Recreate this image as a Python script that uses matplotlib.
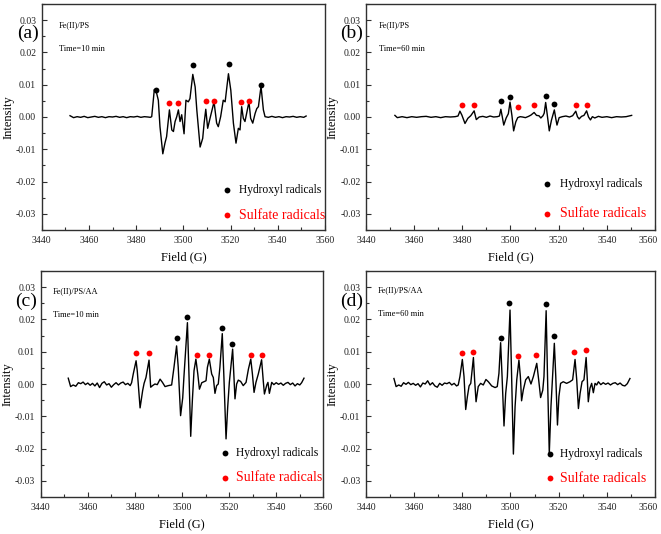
import matplotlib
matplotlib.use("Agg")
import matplotlib.pyplot as plt
from matplotlib.ticker import MultipleLocator, FormatStrFormatter, FuncFormatter

plt.rcParams['font.family'] = ['Liberation Serif', 'DejaVu Serif']
plt.rcParams['axes.unicode_minus'] = False

# ---------------- data ----------------
field_a = [3452.0, 3453.5, 3455.0, 3456.5, 3458.0, 3459.5, 3461.0, 3462.5, 3464.0, 3465.5,
           3467.0, 3468.5, 3470.0, 3471.5, 3473.0, 3474.5, 3476.0, 3477.5, 3479.0, 3480.5,
           3482.0, 3483.5, 3485.0, 3486.0, 3486.6, 3487.7, 3488.7, 3489.4, 3490.1, 3491.3,
           3492.2, 3492.9, 3494.1, 3495.1, 3495.8, 3496.5, 3497.2, 3497.9, 3498.6, 3499.3,
           3500.3, 3501.1, 3502.1, 3502.8, 3504.0, 3505.0, 3505.7, 3507.1, 3508.2, 3508.8,
           3509.5, 3510.3, 3511.3, 3513.0, 3514.1, 3514.8, 3515.8, 3516.9, 3517.7, 3519.1,
           3520.1, 3521.2, 3522.3, 3523.3, 3524.0, 3524.7, 3525.4, 3526.1, 3526.8, 3527.8,
           3528.5, 3529.4, 3530.4, 3531.1, 3531.8, 3532.9, 3533.9, 3534.6, 3536.0, 3537.5,
           3539.0, 3540.5, 3542.0, 3543.5, 3545.0, 3546.5, 3548.0, 3549.5, 3551.0, 3552.0]
intensity_a = [0.0004, -0.0002, 0.0001, -0.0001, 0.0002, -0.0002, 0.0000, 0.0002, -0.0001, 0.0001,
               -0.0002, 0.0001, 0.0000, 0.0002, -0.0001, 0.0001, -0.0002, 0.0001, 0.0000, 0.0002,
               -0.0001, 0.0001, 0.0000, -0.0001, 0.0001, 0.0085, 0.0073, 0.0052, -0.0030, -0.0114,
               -0.0081, -0.0061, 0.0022, -0.0040, -0.0045, -0.0014, 0.0001, 0.0022, -0.0014, 0.0007,
               -0.0052, 0.0052, 0.0047, 0.0057, 0.0132, 0.0093, 0.0022, -0.0093, -0.0066, -0.0019,
               0.0024, -0.0035, -0.0004, 0.0047, -0.0019, -0.0030, 0.0001, 0.0052, 0.0047, 0.0134,
               0.0083, -0.0019, -0.0081, -0.0035, -0.0040, 0.0032, -0.0004, -0.0014, 0.0011, 0.0047,
               -0.0004, -0.0019, 0.0011, 0.0026, 0.0032, 0.0095, 0.0022, 0.0001, -0.0001, 0.0002,
               -0.0001, 0.0001, -0.0002, 0.0001, 0.0000, 0.0002, -0.0001, 0.0001, -0.0001, 0.0003]

field_b = [3452.0, 3453.0, 3455.0, 3457.0, 3459.0, 3461.0, 3463.0, 3465.0, 3467.0, 3469.0,
           3471.0, 3473.0, 3475.0, 3477.0, 3478.2, 3479.0, 3479.8, 3481.1, 3482.3, 3483.5,
           3484.9, 3485.8, 3487.0, 3488.5, 3490.0, 3491.5, 3493.0, 3494.5, 3495.4, 3496.0,
           3496.6, 3497.2, 3498.2, 3499.1, 3499.8, 3500.6, 3501.3, 3502.2, 3503.0, 3504.0,
           3505.0, 3506.2, 3507.5, 3508.5, 3509.8, 3510.8, 3511.8, 3512.6, 3513.5, 3514.0,
           3514.6, 3515.3, 3516.1, 3517.0, 3517.6, 3518.2, 3518.8, 3519.3, 3520.2, 3521.5,
           3523.0, 3524.5, 3525.8, 3527.1, 3527.8, 3528.5, 3529.5, 3530.5, 3531.6, 3532.4,
           3533.2, 3534.0, 3535.0, 3536.5, 3538.0, 3540.0, 3542.0, 3544.0, 3546.0, 3548.0,
           3550.3]
intensity_b = [0.0005, -0.0002, 0.0001, -0.0002, 0.0001, -0.0001, 0.0001, 0.0002, -0.0001, 0.0001,
               -0.0002, 0.0001, 0.0000, 0.0001, 0.0003, 0.0018, 0.0006, -0.0020, -0.0004, 0.0004,
               0.0019, -0.0008, 0.0000, 0.0002, -0.0001, 0.0003, 0.0000, 0.0001, 0.0003, 0.0024,
               0.0000, -0.0025, -0.0003, 0.0010, 0.0046, 0.0004, -0.0043, -0.0015, -0.0002, 0.0001,
               0.0000, -0.0002, 0.0002, 0.0006, 0.0014, 0.0005, 0.0004, -0.0003, 0.0004, 0.0012,
               0.0045, 0.0005, -0.0043, -0.0010, 0.0006, 0.0022, -0.0005, -0.0025, -0.0002, 0.0001,
               0.0003, 0.0000, 0.0004, 0.0018, 0.0001, -0.0006, 0.0002, 0.0005, 0.0019, 0.0000,
               -0.0009, 0.0001, -0.0003, 0.0002, -0.0001, 0.0001, -0.0002, 0.0001, 0.0000, 0.0001,
               0.0005]

field_c = [3451.7, 3452.7, 3453.8, 3454.9, 3456.0, 3457.0, 3458.0, 3459.0, 3460.0, 3461.0,
           3462.0, 3463.0, 3464.0, 3465.0, 3466.0, 3467.0, 3468.0, 3469.0, 3470.0, 3471.0,
           3472.0, 3473.0, 3474.0, 3475.0, 3476.0, 3477.0, 3478.0, 3478.6, 3479.3, 3480.5,
           3481.0, 3482.2, 3483.3, 3483.9, 3484.7, 3486.0, 3486.7, 3487.5, 3488.5, 3489.5,
           3490.7, 3491.7, 3492.8, 3494.2, 3495.6, 3496.6, 3497.7, 3498.4, 3499.4, 3500.3,
           3500.8, 3502.3, 3503.0, 3503.7, 3504.4, 3505.1, 3505.9, 3506.7, 3507.4, 3508.4,
           3509.3, 3510.2, 3510.8, 3511.6, 3512.6, 3513.3, 3514.0, 3514.7, 3515.4, 3516.1,
           3517.1, 3517.8, 3518.7, 3519.4, 3520.1, 3521.5, 3522.0, 3522.5, 3523.2, 3523.9,
           3524.9, 3526.0, 3527.2, 3528.2, 3529.2, 3529.9, 3530.6, 3531.4, 3532.4, 3533.8,
           3534.5, 3535.0, 3536.0, 3536.5, 3537.1, 3538.1, 3539.0, 3540.0, 3541.0, 3542.0,
           3543.0, 3544.0, 3545.0, 3546.0, 3547.0, 3548.0, 3549.0, 3550.0, 3550.8, 3551.8]
intensity_c = [0.0018, -0.0008, -0.0003, -0.0007, 0.0004, 0.0001, 0.0006, -0.0002, 0.0003, -0.0004,
               0.0002, -0.0006, 0.0003, -0.0011, 0.0002, 0.0007, -0.0003, 0.0001, -0.0010, -0.0002,
               0.0004, -0.0003, 0.0003, 0.0006, -0.0002, 0.0002, -0.0005, 0.0004, 0.0031, 0.0072,
               0.0041, -0.0074, -0.0020, 0.0002, 0.0020, 0.0074, -0.0010, -0.0005, 0.0000, -0.0002,
               0.0015, 0.0005, -0.0008, -0.0005, -0.0003, 0.0052, 0.0118, 0.0052, -0.0098, -0.0043,
               0.0020, 0.0190, 0.0020, -0.0162, -0.0051, 0.0041, 0.0077, 0.0031, -0.0016, 0.0004,
               0.0007, 0.0010, 0.0052, 0.0077, 0.0031, 0.0020, -0.0029, -0.0005, 0.0000, 0.0052,
               0.0156, 0.0020, -0.0170, -0.0072, 0.0005, 0.0108, 0.0031, -0.0046, 0.0000, 0.0012,
               0.0008, -0.0005, 0.0005, 0.0046, 0.0077, 0.0031, -0.0026, 0.0005, 0.0031, 0.0075,
               0.0010, -0.0031, -0.0003, 0.0005, -0.0029, 0.0005, -0.0002, 0.0004, -0.0001, 0.0003,
               -0.0004, 0.0002, 0.0005, -0.0002, 0.0003, -0.0006, 0.0001, -0.0003, 0.0004, 0.0018]

field_d = [3451.6, 3452.5, 3453.6, 3454.6, 3455.6, 3456.6, 3457.6, 3458.6, 3459.6, 3460.6,
           3461.6, 3462.6, 3463.6, 3464.6, 3465.6, 3466.6, 3467.6, 3468.6, 3469.6, 3470.6,
           3471.6, 3472.6, 3473.6, 3474.6, 3475.6, 3476.6, 3477.6, 3478.3, 3479.0, 3480.0,
           3480.7, 3481.4, 3482.1, 3482.8, 3483.5, 3484.6, 3485.1, 3485.7, 3486.6, 3487.6,
           3488.7, 3489.8, 3490.8, 3492.2, 3493.6, 3494.5, 3495.2, 3495.9, 3496.5, 3497.3,
           3498.0, 3498.7, 3499.8, 3500.5, 3501.2, 3501.9, 3502.6, 3503.5, 3504.1, 3504.6,
           3505.3, 3506.3, 3507.4, 3508.5, 3509.5, 3510.9, 3511.7, 3512.5, 3513.4, 3513.9,
           3514.8, 3515.4, 3516.1, 3516.8, 3517.4, 3518.2, 3518.8, 3519.5, 3520.1, 3520.8,
           3521.9, 3523.3, 3524.7, 3525.8, 3526.8, 3527.5, 3528.2, 3528.9, 3529.7, 3530.5,
           3531.4, 3531.9, 3532.3, 3533.0, 3533.7, 3534.4, 3535.1, 3535.8, 3536.5, 3537.5,
           3538.5, 3539.5, 3540.5, 3541.5, 3542.5, 3543.5, 3544.5, 3545.5, 3546.5, 3547.5,
           3548.5, 3549.6]
intensity_d = [0.0017, -0.0008, -0.0003, -0.0007, 0.0004, -0.0001, 0.0005, -0.0002, 0.0002, -0.0004,
               0.0001, -0.0009, 0.0003, 0.0000, 0.0010, -0.0003, 0.0004, -0.0006, -0.0010, 0.0002,
               -0.0004, 0.0003, 0.0001, 0.0005, -0.0003, 0.0002, -0.0006, -0.0003, 0.0023, 0.0076,
               0.0023, -0.0079, -0.0039, -0.0006, 0.0002, 0.0082, 0.0013, -0.0055, -0.0008, 0.0002,
               -0.0003, 0.0014, 0.0007, -0.0006, -0.0011, -0.0008, 0.0033, 0.0128, 0.0023, -0.0130,
               -0.0029, 0.0023, 0.0229, 0.0013, -0.0217, -0.0070, 0.0013, 0.0074, 0.0023, -0.0052,
               -0.0019, 0.0013, 0.0023, 0.0000, 0.0023, 0.0064, 0.0013, -0.0042, -0.0019, 0.0023,
               0.0227, 0.0013, -0.0215, -0.0070, 0.0013, 0.0126, 0.0023, -0.0127, -0.0039, 0.0002,
               0.0007, 0.0002, 0.0007, 0.0013, 0.0076, 0.0013, -0.0076, -0.0029, 0.0007, 0.0013,
               0.0082, 0.0013, -0.0055, -0.0013, 0.0002, -0.0027, 0.0002, -0.0003, 0.0007, -0.0002,
               0.0004, -0.0001, 0.0003, -0.0003, 0.0002, 0.0004, -0.0002, 0.0003, -0.0004, -0.0006,
               0.0001, 0.0017]

# radical markers (field, intensity)
hyd_a_x = [3488.3, 3503.9, 3519.4, 3532.8]
hyd_a_y = [0.0085, 0.0160, 0.0165, 0.0099]
sul_a_x = [3494.1, 3497.7, 3509.6, 3513.1, 3524.3, 3528.0]
sul_a_y = [0.0044, 0.0044, 0.0051, 0.0051, 0.0047, 0.0050]
hyd_b_x = [3495.9, 3499.8, 3514.6, 3518.2]
hyd_b_y = [0.0050, 0.0063, 0.0066, 0.0040]
sul_b_x = [3479.7, 3485.0, 3503.3, 3509.8, 3527.2, 3531.9]
sul_b_y = [0.0037, 0.0037, 0.0031, 0.0037, 0.0037, 0.0037]
hyd_c_x = [3497.7, 3502.2, 3517.1, 3521.4]
hyd_c_y = [0.0142, 0.0206, 0.0173, 0.0123]
sul_c_x = [3480.5, 3486.0, 3506.4, 3511.5, 3529.2, 3533.8]
sul_c_y = [0.0095, 0.0097, 0.0091, 0.0091, 0.0091, 0.0091]
hyd_d_x = [3496.1, 3499.5, 3514.8, 3518.1]
hyd_d_y = [0.0144, 0.0252, 0.0248, 0.0149]
sul_d_x = [3479.7, 3484.3, 3503.3, 3510.5, 3526.5, 3531.4]
sul_d_y = [0.0095, 0.0100, 0.0088, 0.0090, 0.0098, 0.0105]

panel_letters = ['(a)', '(b)', '(c)', '(d)']
systems = ['Fe(II)/PS', 'Fe(II)/PS', 'Fe(II)/PS/AA', 'Fe(II)/PS/AA']
times = ['Time=10 min', 'Time=60 min', 'Time=10 min', 'Time=60 min']
legend_labels = ['Hydroxyl radicals', 'Sulfate radicals']
x_max = 3560

# ---------------- layout ----------------
W, H = 661, 534
fig = plt.figure(figsize=(W / 100, H / 100), dpi=100)

def px_rect(left, right, top, bottom):
    return [left / W, 1 - bottom / H, (right - left) / W, (bottom - top) / H]

rects = [px_rect(41.7, 325, 4, 230), px_rect(366, 655, 4, 230),
         px_rect(40.7, 323.3, 271, 497), px_rect(366, 655, 271, 497)]
letter_pos = [(28.5, 33), (352, 33), (26, 301), (351.5, 301)]
text_x = [0.061, 0.045, 0.0435, 0.0415]
text_y1 = [0.907, 0.907, 0.911, 0.916]
text_y2 = [0.801, 0.801, 0.805, 0.81]
leg_dot_x = [3518.4, 3515.0, 3518.4, 3516.6]
leg_text_x = [3523.6, 3520.6, 3522.9, 3520.6]
leg_y1 = [-0.0225, -0.0209, -0.0214, -0.0217]
leg_y2 = [-0.0305, -0.0299, -0.0291, -0.0292]

spectra = [(field_a, intensity_a), (field_b, intensity_b), (field_c, intensity_c), (field_d, intensity_d)]
hyd = [(hyd_a_x, hyd_a_y), (hyd_b_x, hyd_b_y), (hyd_c_x, hyd_c_y), (hyd_d_x, hyd_d_y)]
sul = [(sul_a_x, sul_a_y), (sul_b_x, sul_b_y), (sul_c_x, sul_c_y), (sul_d_x, sul_d_y)]

spine_col = '#303030'
for i in range(4):
    ax = fig.add_axes(rects[i])
    fx, fy = spectra[i]
    ax.plot(fx, fy, color='black', lw=1.0, zorder=3)
    ax.plot(hyd[i][0], hyd[i][1], 'o', color='black', ms=4.2, mec='none', zorder=4)
    ax.plot(sul[i][0], sul[i][1], 'o', color='#ff0000', ms=4.2, mec='none', zorder=4)
    # legend-like keys
    ax.plot([leg_dot_x[i]], [leg_y1[i]], 'o', color='black', ms=4.2, mec='none')
    ax.plot([leg_dot_x[i]], [leg_y2[i]], 'o', color='#ff0000', ms=4.2, mec='none')
    ax.text(leg_text_x[i], leg_y1[i], legend_labels[0], fontsize=8.3, color='black',
            ha='left', va='center')
    ax.text(leg_text_x[i], leg_y2[i], legend_labels[1], fontsize=10, color='#ff0000',
            ha='left', va='center')

    ax.set_xlim(3440, x_max)
    ax.set_ylim(-0.035, 0.035)
    ax.xaxis.set_major_locator(MultipleLocator(20))
    ax.xaxis.set_minor_locator(MultipleLocator(10))
    ax.yaxis.set_major_locator(MultipleLocator(0.01))
    ax.yaxis.set_minor_locator(MultipleLocator(0.005))
    ax.yaxis.set_major_formatter(FormatStrFormatter('%.2f'))
    ax.tick_params(which='both', direction='in', labelsize=7, colors=spine_col,
                   labelcolor='#222222', width=0.8)
    ax.tick_params(which='major', length=3.5, pad=4)
    ax.tick_params(which='minor', length=2)
    for s in ax.spines.values():
        s.set_color(spine_col)
        s.set_linewidth(1.0)

    if i in (1, 3):
        # the last tick label of the right-hand panels is drawn nudged inwards
        ax.xaxis.set_major_formatter(FuncFormatter(
            lambda v, p: '' if abs(v - x_max) < 1e-6 else '%d' % v))
        ax.annotate('%d' % x_max, xy=(x_max, 0), xycoords=ax.get_xaxis_transform(),
                    xytext=(-5, -4), textcoords='offset points', ha='center', va='top',
                    fontsize=7, color='#222222', annotation_clip=False)

    ax.set_xlabel('Field (G)', fontsize=9)
    ax.set_ylabel('Intensity', fontsize=9)
    ax.xaxis.set_label_coords(0.5, -0.093)
    ax.yaxis.set_label_coords(-0.095, 0.5)

    ax.text(text_x[i], text_y1[i], systems[i], transform=ax.transAxes, fontsize=6,
            ha='left', va='center')
    ax.text(text_x[i], text_y2[i], times[i], transform=ax.transAxes, fontsize=6,
            ha='left', va='center')
    fig.text(letter_pos[i][0] / W, 1 - letter_pos[i][1] / H, panel_letters[i],
             fontsize=14, ha='center', va='center')

fig.savefig('out.png', dpi=100)
